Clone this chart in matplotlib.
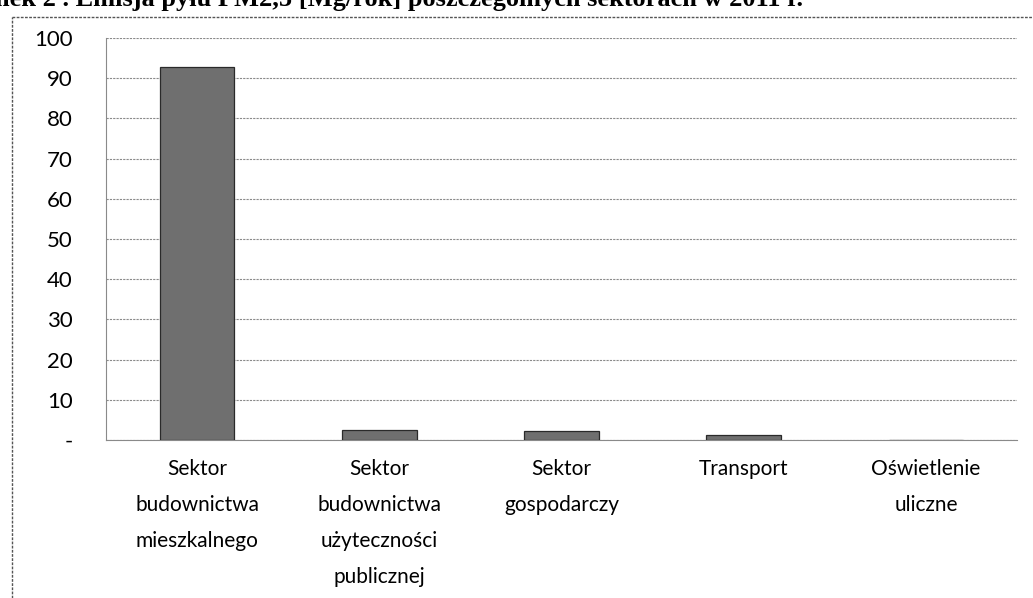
import numpy as np
import matplotlib.pyplot as plt
from matplotlib.lines import Line2D

categories = ["Sektor\nbudownictwa\nmieszkalnego",
              "Sektor\nbudownictwa\nużyteczności\npublicznej",
              "Sektor\ngospodarczy",
              "Transport",
              "Oświetlenie\nuliczne"]
values = [92.8, 2.5, 2.3, 1.2, 0.1]
yticks = [0, 10, 20, 30, 40, 50, 60, 70, 80, 90, 100]
ytick_labels = ["-"] + [str(v) for v in yticks[1:]]

plt.rcParams['font.family'] = ['Lato', 'DejaVu Sans']

fig = plt.figure(figsize=(10.33, 5.98), dpi=100)
ax = fig.add_axes([106/1033, 1 - 440/598, (1017 - 106)/1033, (440 - 38)/598])

x = np.arange(len(categories))
ax.bar(x, values, width=0.41, color='#6f6f6f', edgecolor='#2a2a2a', linewidth=0.9, zorder=3)

ax.set_ylim(0, 100)
ax.set_xlim(-0.5, len(categories) - 0.5)
ax.set_yticks(yticks)
ax.set_yticklabels(ytick_labels, fontsize=16)
ax.set_xticks(x)
ax.set_xticklabels(categories, fontsize=15, linespacing=2.0, va='top')
ax.tick_params(axis='y', length=0, pad=24)
ax.tick_params(axis='x', length=0, pad=14)
ax.yaxis.grid(True, color='#8a8a8a', linewidth=0.8, linestyle=(0, (2, 1)))
ax.set_axisbelow(True)
for s in ['top', 'right']:
    ax.spines[s].set_visible(False)
ax.spines['left'].set_color('#8a8a8a')
ax.spines['bottom'].set_color('#8a8a8a')

# outer chart frame (partially cut off by the scan)
fy = 1 - 17/598
fx = 12/1033
fig.add_artist(Line2D([fx, fx], [0, fy], color='#555555', linewidth=1.0, linestyle=(0, (2, 1))))
fig.add_artist(Line2D([fx, 1], [fy, fy], color='#555555', linewidth=1.0, linestyle=(0, (2, 1))))

# title clipped at top of scan
fig.text(-0.005, 1 - 6/598, "nek 2 . Emisja pyłu PM2,5 [Mg/rok] poszczególnych sektorach w 2011 r.",
         family=['Liberation Serif'], fontweight='bold', fontsize=19, va='baseline', ha='left')

fig.savefig("out.png", dpi=100)
